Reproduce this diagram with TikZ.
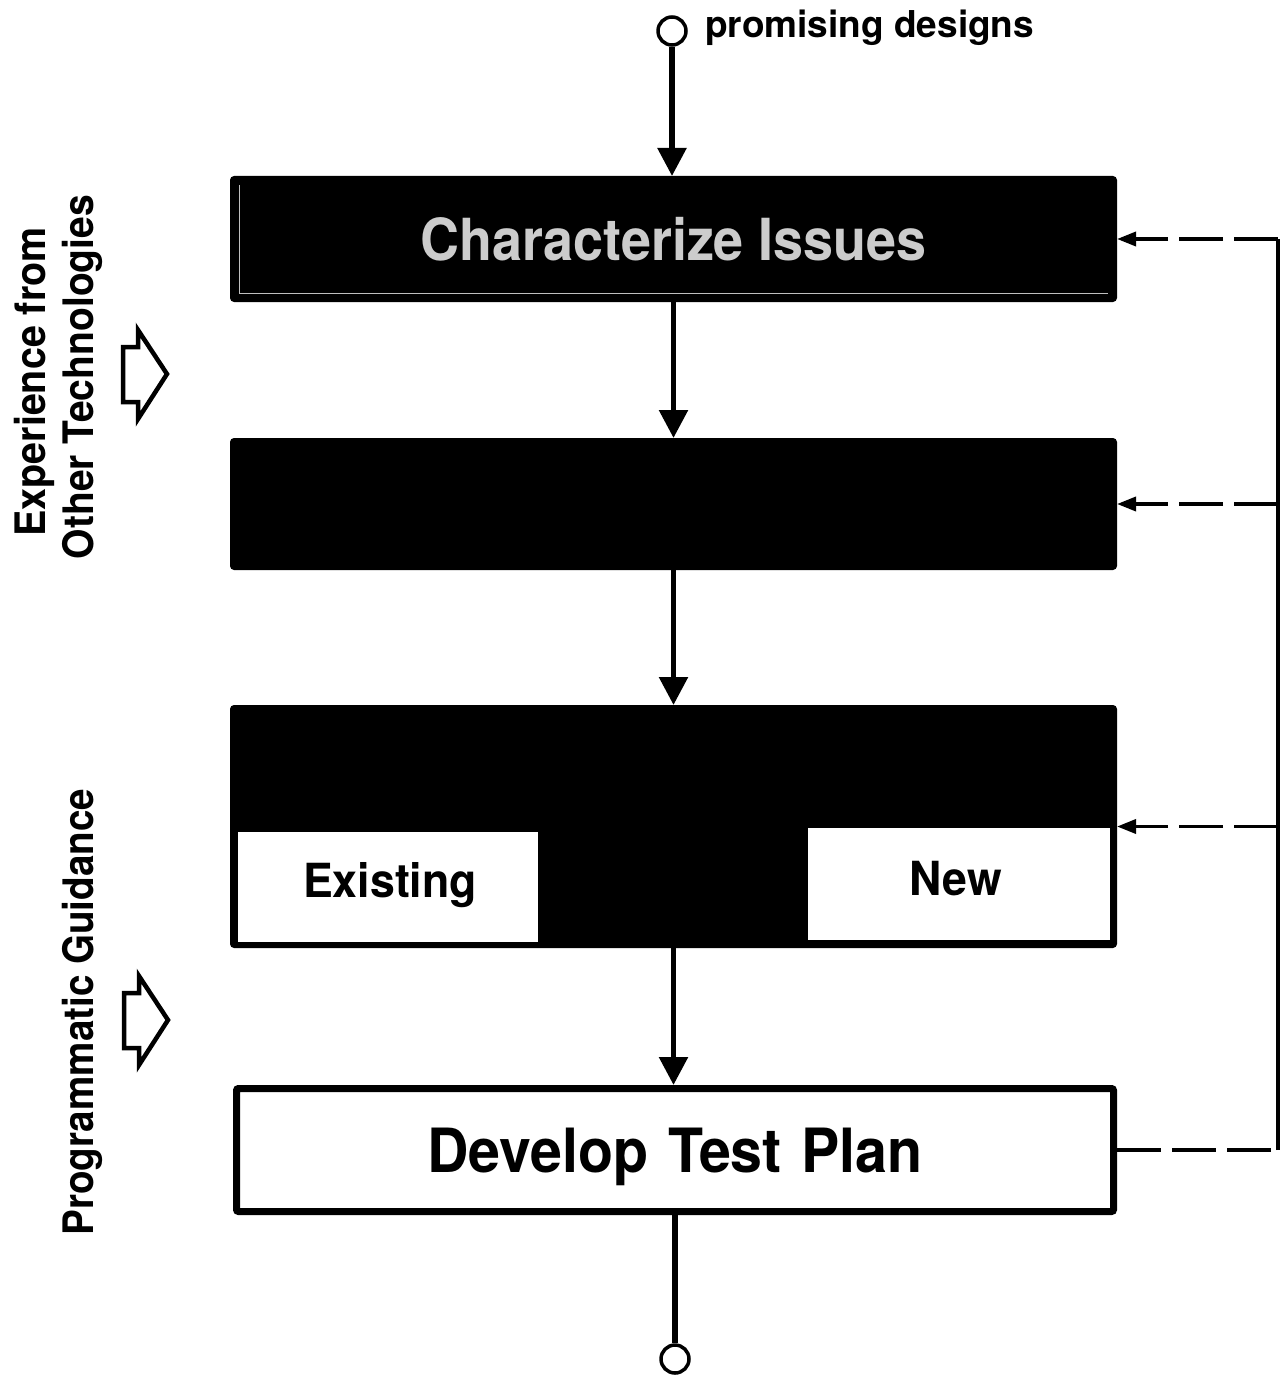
\documentclass[tikz,border=0pt]{standalone}
\usepackage{fontspec}
\setmainfont{TeX Gyre Heros}
\usetikzlibrary{arrows.meta}
\newcommand{\cx}[2]{\scalebox{#1}[1]{#2}}
\begin{document}
\begin{tikzpicture}[x=1pt,y=-1pt,
  blk/.style={rectangle, fill=black, draw=black, line width=5pt, inner sep=0pt, rounded corners=2pt},
  wbox/.style={rectangle, fill=white, draw=black, line width=7pt, inner sep=0pt, rounded corners=2pt},
  inbox/.style={rectangle, fill=white, inner sep=0pt},
  term/.style={circle, draw=black, fill=white, line width=3.5pt, minimum size=28pt, inner sep=0pt},
  flow/.style={line width=5.5pt, -{Triangle[length=28pt,width=28pt]}},
  plainline/.style={line width=5.5pt},
  fb/.style={line width=3.5pt, dash pattern=on 44pt off 11pt},
  fbarrow/.style={fb, -{Triangle[length=19pt,width=14pt]}},
  vline/.style={line width=3.5pt},
  side/.style={font=\bfseries\fontsize{42}{45}\selectfont, inner sep=0pt, rotate=90, anchor=base},
  boxtext/.style={font=\bfseries\fontsize{47}{50}\selectfont, inner sep=0pt, anchor=base},
  hollow/.style={line width=4.5pt, line join=miter, fill=white},
  hollowarrow/.pic={\draw[hollow] (-44,-27) -- (-29,-27) -- (-29,-44) -- (0,0) -- (-29,45) -- (-29,28) -- (-44,28) -- cycle;}
]
\useasboundingbox (0,0) rectangle (1280,1375);

% terminals
\node[term] (start) at (672,31) {};
\node[anchor=base west, inner sep=0pt, font=\bfseries\fontsize{37}{40}\selectfont] (lstart) at (705,38) {promising designs};

% boxes
\node[blk, minimum width=882pt, minimum height=121pt, text=white!80!black, text depth=0pt,
      font=\bfseries\fontsize{58}{60}\selectfont] (b1) at (673.5,239) {\cx{0.93}{Characterize Issues}};
\draw[gray!50, line width=1pt] ([xshift=9pt,yshift=-9pt]b1.north west) -- ([xshift=9pt,yshift=9pt]b1.south west) -- ([xshift=-9pt,yshift=9pt]b1.south east);
\node[blk, minimum width=882pt, minimum height=127pt] (b2) at (673.5,504) {};
\node[blk, minimum width=882pt, minimum height=238pt] (b3) at (673.5,826.5) {};
\node[inbox, minimum width=300pt, minimum height=110pt] (ex) at (388,887) {};
\node[inbox, minimum width=302pt, minimum height=112pt] (nw) at (959,884) {};
\node[boxtext] (lex) at (390,897) {\cx{0.95}{Existing}};
\node[boxtext] (lnw) at (956,895) {\cx{0.95}{New}};
\node[wbox, minimum width=877pt, minimum height=123pt, text depth=0pt,
      font=\bfseries\fontsize{61}{64}\selectfont] (b4) at (675,1150) {\cx{0.94}{Develop\hspace{4pt} Test\hspace{4pt} Plan}};
\node[term] (stop) at (675,1359) {};

% main flow
\draw[flow] (start) -- (start |- b1.north);
\draw[flow] (b1.south) -- (b2.north);
\draw[flow] (b2.south) -- (b3.north);
\draw[flow] (b3.south) -- (b3.south |- b4.north);
\draw[plainline] (b4.south) -- (stop);

% feedback
\coordinate (rx) at (1278,0);
\draw[fb] (b4.east) -- (b4.east -| rx);
\draw[vline] (rx |- b4.east) -- (rx |- b1.east);
\draw[fbarrow] (rx |- b1.east) -- (b1.east);
\draw[fbarrow] (rx |- b2.east) -- (b2.east);
\draw[fbarrow] (rx |- b3.east) -- (b3.east);

% side labels
\node[side] (s1) at (45,382) {\cx{0.94}{Experience from}};
\node[side] (s2) at (93,377) {\cx{0.93}{Other Technologies}};
\pic at (167,374) {hollowarrow};
\node[side] (s3) at (93,1012) {\cx{0.92}{Programmatic Guidance}};
\pic at (168,1020) {hollowarrow};
\end{tikzpicture}
\end{document}
